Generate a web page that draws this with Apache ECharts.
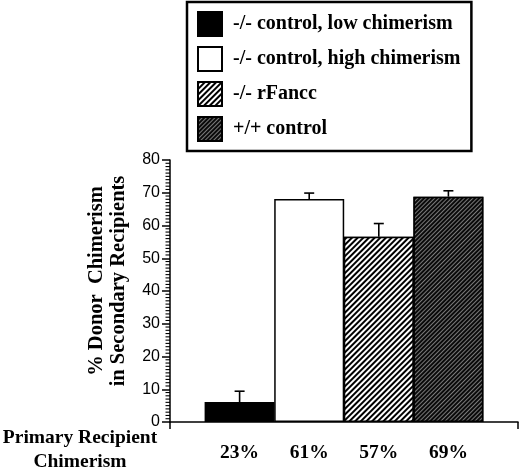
<!DOCTYPE html>
<html>
<head>
<meta charset="utf-8">
<script src="https://cdn.jsdelivr.net/npm/echarts@6/dist/echarts.min.js"></script>
<style>html,body{margin:0;padding:0;background:#fff;}#c{width:520px;height:470px;}</style>
</head>
<body>
<div id="c"></div>
<script>
const groups = ['-/- control, low chimerism', '-/- control, high chimerism', '-/- rFancc', '+/+ control'];
const primaryChimerism = ['23%', '61%', '57%', '69%'];
const meanDonor = [6.1, 68.1, 56.6, 68.8];
const errUpper = [9.4, 69.9, 60.6, 70.6];
const barPositions = [1, 2, 3, 4];
const yMax = 80;
const yMajorStep = 10;
const yMinorStep = 1;

const serif = '"Liberation Serif", "DejaVu Serif", serif';
const sans = '"Liberation Sans", Arial, sans-serif';

const minorTickValues = [];
for (let v = yMinorStep; v < yMax; v += yMinorStep) {
  if (v % yMajorStep !== 0) minorTickValues.push(v);
}

const styles = [
  { color: '#000', borderColor: '#000', borderWidth: 1.5 },
  { color: '#fff', borderColor: '#000', borderWidth: 1.5 },
  { color: '#fff', borderColor: '#000', borderWidth: 1.5,
    decal: { symbol: 'rect', symbolSize: 1, dashArrayX: [1, 0], dashArrayY: [1.4, 1.6], rotation: -Math.PI / 4, color: '#000', backgroundColor: '#fff' } },
  { color: '#0a0a0a', borderColor: '#000', borderWidth: 1.5,
    decal: { symbol: 'rect', symbolSize: 1, dashArrayX: [1, 0], dashArrayY: [1, 2], rotation: -Math.PI / 4, color: '#7a7a7a', backgroundColor: '#0a0a0a' } }
];

const series = groups.map((g, i) => ({
  type: 'bar',
  name: g,
  data: [[barPositions[i], meanDonor[i]]],
  barWidth: 70,
  barGap: '-100%',
  itemStyle: styles[i],
  emphasis: { disabled: true }
}));

series.push({
  type: 'custom',
  name: 'error',
  data: barPositions.map((x, i) => [x, meanDonor[i], errUpper[i]]),
  encode: { x: 0, y: [1, 2] },
  z: 10,
  renderItem: function (params, api) {
    const x = api.value(0);
    const lo = api.coord([x, api.value(1)]);
    const hi = api.coord([x, api.value(2)]);
    const st = { stroke: '#000', lineWidth: 1.6 };
    return {
      type: 'group',
      children: [
        { type: 'line', shape: { x1: lo[0], y1: lo[1], x2: hi[0], y2: hi[1] }, style: st },
        { type: 'line', shape: { x1: hi[0] - 5, y1: hi[1], x2: hi[0] + 5, y2: hi[1] }, style: st }
      ]
    };
  }
});

// minor ticks of the y axis, placed through the axis scale
series.push({
  type: 'custom',
  name: 'yMinorTicks',
  clip: false,
  silent: true,
  data: minorTickValues.map(v => [0, v]),
  encode: { x: 0, y: 1 },
  z: 10,
  renderItem: function (params, api) {
    const p = api.coord([api.value(0), api.value(1)]);
    return {
      type: 'line',
      shape: { x1: p[0] - 4.5, y1: p[1], x2: p[0], y2: p[1] },
      style: { stroke: '#000', lineWidth: 1.1 }
    };
  }
});

const chart = echarts.init(document.getElementById('c'), null, { renderer: 'canvas' });
chart.setOption({
  backgroundColor: '#fff',
  animation: false,
  legend: {
    data: groups,
    orient: 'vertical',
    left: 187,
    top: 2,
    icon: 'rect',
    itemWidth: 24,
    itemHeight: 24,
    itemGap: 9,
    padding: [9, 11, 9, 10],
    borderColor: '#000',
    borderWidth: 2.5,
    selectedMode: false,
    itemStyle: { borderWidth: 2, borderColor: '#000' },
    textStyle: { fontFamily: serif, fontWeight: 'bold', fontSize: 20, lineHeight: 24, color: '#000', padding: [0, 0, 0, 6] }
  },
  grid: { left: 170, right: 2, top: 160, bottom: 48 },
  xAxis: {
    type: 'value',
    min: 0,
    max: 5,
    splitLine: { show: false },
    axisLine: { show: true, lineStyle: { color: '#000', width: 1.5 } },
    axisTick: { show: true, customValues: [0, 5], length: 7, lineStyle: { color: '#000', width: 1.5 } },
    axisLabel: {
      customValues: barPositions,
      formatter: v => primaryChimerism[Math.round(v) - 1] || '',
      margin: 21,
      fontFamily: serif, fontWeight: 'bold', fontSize: 19.5, color: '#000'
    }
  },
  yAxis: {
    type: 'value',
    min: 0,
    max: yMax,
    interval: yMajorStep,
    name: '% Donor  Chimerism\nin Secondary Recipients',
    nameLocation: 'middle',
    nameRotate: 90,
    nameGap: 40,
    nameTextStyle: { fontFamily: serif, fontWeight: 'bold', fontSize: 20.5, color: '#000', lineHeight: 22, padding: [0, 0, 0, 20] },
    splitLine: { show: false },
    axisLine: { show: true, lineStyle: { color: '#000', width: 1.5 } },
    axisTick: { show: true, length: 8, lineStyle: { color: '#000', width: 1.5 } },
    axisLabel: { margin: 10, fontFamily: sans, fontSize: 16, color: '#000' }
  },
  graphic: [{
    type: 'text',
    x: 80,
    y: 450,
    style: {
      text: 'Primary Recipient\nChimerism',
      font: 'bold 19.5px ' + serif,
      lineHeight: 24,
      textAlign: 'center',
      textVerticalAlign: 'middle',
      fill: '#000'
    }
  }],
  series: series
});
</script>
</body>
</html>
